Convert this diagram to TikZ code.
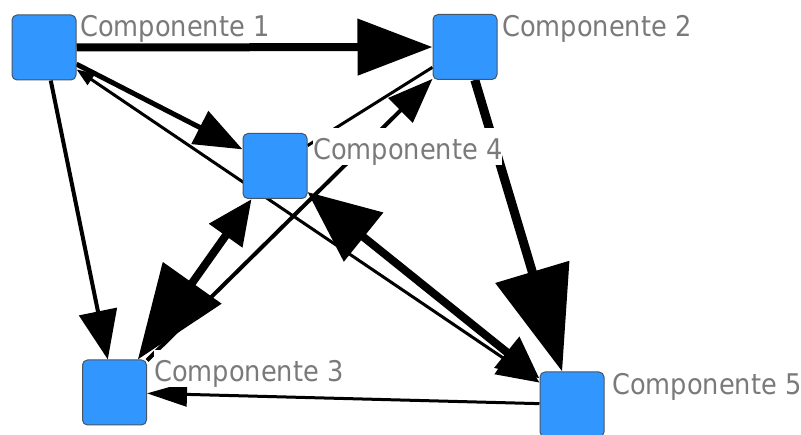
\documentclass[tikz,border=0pt]{standalone}
\usepackage{fontspec}
\setmainfont{DejaVu Sans}[FakeStretch=0.9]
\usetikzlibrary{arrows.meta}
\pgfdeclarelayer{background}
\pgfsetlayers{background,main}
\definecolor{boxblue}{RGB}{50,150,255}
\definecolor{boxedge}{RGB}{70,85,100}
\definecolor{labgray}{RGB}{122,122,122}
\begin{document}
\begin{tikzpicture}[x=1pt,y=-1pt,
  comp/.style={draw=boxedge, line width=1pt, fill=boxblue, rounded corners=5pt,
    minimum width=64pt, minimum height=65pt, inner sep=0pt},
  lab/.style={anchor=base west, text=labgray, fill=white, inner sep=0pt,
    text height=32pt, text depth=5pt, font=\fontsize{28.5}{32}\selectfont},
  link/.style={draw=black, line cap=butt}]
\useasboundingbox (0,0) rectangle (801,435);
\node[comp] (c1) at (44,47.5) {};
\node[comp] (c2) at (465,47) {};
\node[comp] (c4) at (275,166) {};
\node[comp] (c3) at (114.5,392.5) {};
\node[comp] (c5) at (572,404.5) {};
\begin{pgfonlayer}{background}
\draw[link, line width=3pt] (c4) -- (c2);
\draw[link, line width=3pt, {Triangle[length=18pt,width=13pt]}-{Triangle[length=42pt,width=36pt]}] (c1) -- (c5);
\draw[link, line width=3pt, -{Triangle[length=40pt,width=24pt]}] (c5) -- (c3);
\draw[link, line width=4pt, -{Triangle[length=45pt,width=34pt]}] (c3) -- (c2);
\draw[link, line width=4pt, -{Triangle[length=49pt,width=38pt]}] (c1) -- (c3);
\draw[link, line width=5pt, -{Triangle[length=48pt,width=36pt]}] (c1) -- (c4);
\draw[link, line width=8pt, -{Triangle[length=75pt,width=55pt]}] (c1) -- (c2);
\draw[link, line width=9pt, -{Triangle[length=104pt,width=75pt]}] (c2) -- (c5);
\draw[link, line width=8pt, {Triangle[length=45pt,width=39pt]}-{Triangle[length=94pt,width=70pt]}] (c4) -- (c3);
\draw[link, line width=8pt, {Triangle[length=72pt,width=61pt]}-{Triangle[length=42pt,width=38pt]}] (c4) -- (c5);
\end{pgfonlayer}
\node[lab] (l1) at (80,37) {Componente 1};
\node[lab] (l2) at (502,37) {Componente 2};
\node[lab] (l4) at (313,160) {Componente 4};
\node[lab] (l3) at (154,382) {Componente 3};
\node[lab] (l5) at (612,395) {Componente 5};
\end{tikzpicture}
\end{document}
